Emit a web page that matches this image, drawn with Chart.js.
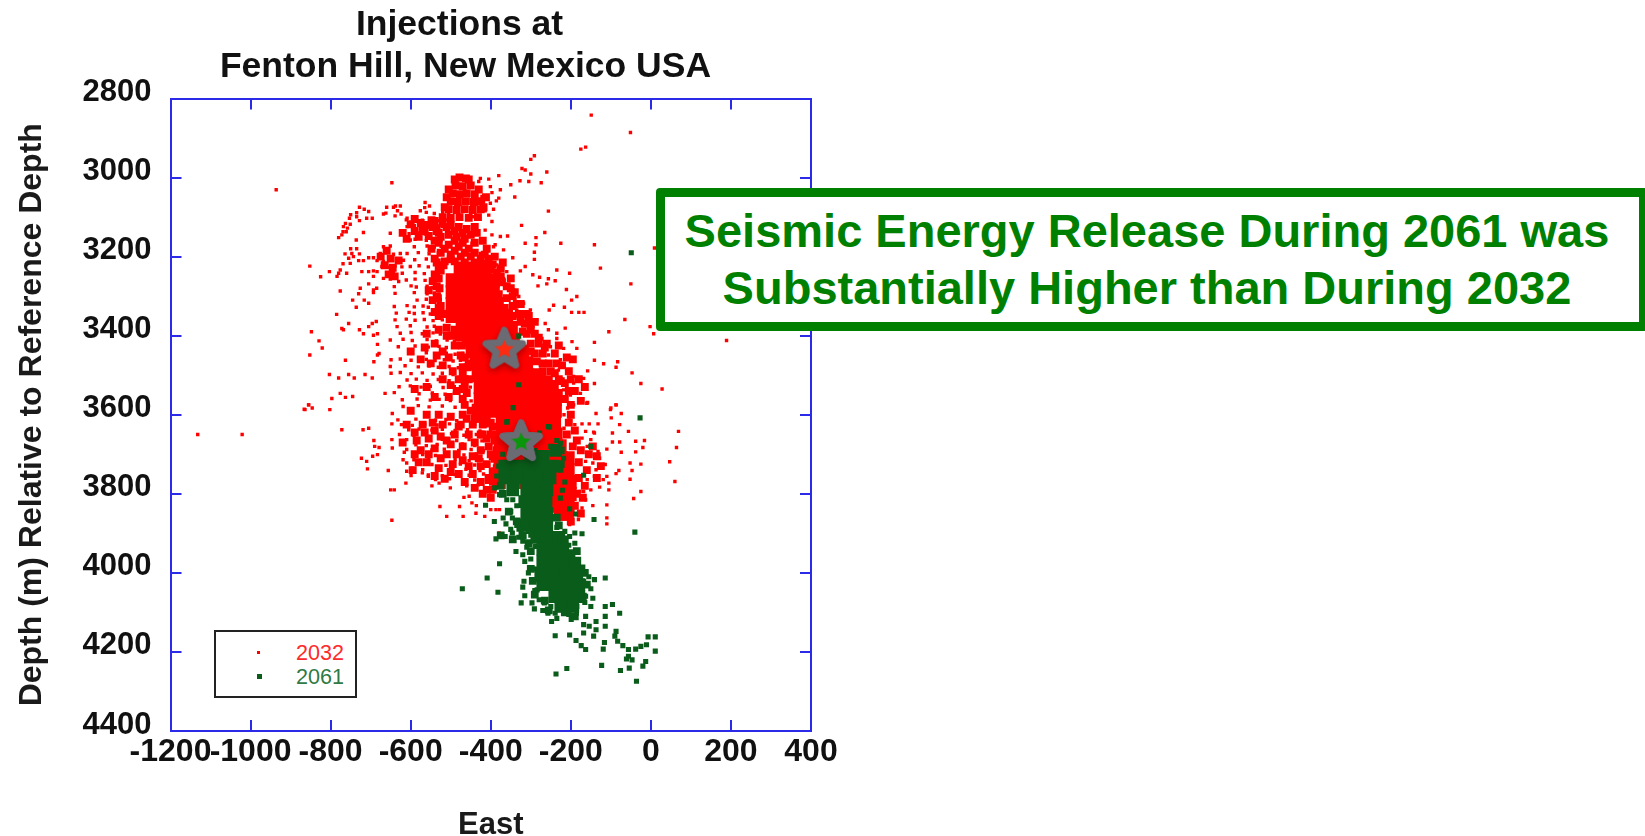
<!DOCTYPE html>
<html>
<head>
<meta charset="utf-8">
<script src="https://cdn.jsdelivr.net/npm/chart.js@4"></script>
<style>
  body { margin: 0; background: #fff; font-family: "Liberation Sans", Arial, sans-serif; }
  .wrap { position: relative; width: 1645px; height: 836px; overflow: hidden; }
  canvas.depth { position: absolute; left: 0; top: 0; }
  .head { position: absolute; left: 200px; top: 2px; width: 531px; text-align: center; color: #111; white-space: nowrap;
    font-weight: bold; font-size: 35.5px; line-height: 42px; }
  .head span { position: relative; left: -6px; }
  .note { position: absolute; left: 656px; top: 188px; width: 992px; height: 143px; box-sizing: border-box;
    border: 9px solid #008000; border-radius: 4px; background: #fff; color: #008000;
    font-weight: bold; font-size: 47px; line-height: 57px; text-align: center; padding: 5px 10px 0 0; white-space: nowrap; }
  .key { position: absolute; left: 214px; top: 630px; width: 143px; height: 68px; box-sizing: border-box; border: 2px solid #222; background: #fff; }
  .key span { position: absolute; left: 80px; font-size: 21.6px; line-height: 24px; }
  .key i { position: absolute; display: block; }
</style>
</head>
<body>
<div class="wrap">
  <canvas class="depth" width="1645" height="836"></canvas>
  <div class="head"><span>Injections at</span><br>Fenton Hill, New Mexico USA</div>
  <div class="note">Seismic Energy Release During 2061 was<br>Substantially Higher than During 2032</div>
  <div class="key">
    <i style="left:41px;top:19px;width:3px;height:3px;background:#ff0000"></i><span style="top:9px;color:#ff2a2a">2032</span>
    <i style="left:41px;top:42px;width:5px;height:5px;background:#0a5c1a"></i><span style="top:33px;color:#2f7a45">2061</span>
  </div>
</div>
<script>
let depth=document.querySelector("canvas.depth");

let xTicks=[-1200,-1000,-800,-600,-400,-200,0,200,400];
let yTicks=[2800,3000,3200,3400,3600,3800,4000,4200,4400];

// all values, [east, depth]
let scatter2032=[
[-149,2842],[-51,2886],[-175,2928],[-163,2923],[-936,3031],[-647,3013],[-291,2945],[-300,2954],[-322,2977],[-314,2981],[-300,2991],[-260,2986],
[-380,2995],[-327,3008],[-305,3010],[-274,3013],[-350,3018],[-340,3049],[-376,3031],[-397,3038],[-380,3052],[-386,3059],[-256,3085],[-323,3121],
[-265,3139],[-358,3148],[-287,3152],[-225,3166],[-141,3170],[-314,3166],[-287,3170],[-291,3189],[-291,3207],[-345,3203],[-314,3225],[-326,3236],
[-235,3234],[-203,3242],[-126,3229],[-50,3269],[-295,3246],[-278,3252],[-239,3261],[-256,3256],[-260,3269],[-282,3274],[-211,3283],[-185,3301],
[-198,3310],[-216,3328],[-243,3323],[-254,3335],[-198,3341],[-180,3341],[-167,3341],[-65,3359],[-2,3377],[7,3395],[-105,3390],[-141,3417],
[-141,3462],[-118,3471],[-83,3466],[-87,3480],[-47,3494],[-25,3521],[-141,3521],[-158,3489],[-158,3569],[-87,3575],[-100,3583],[189,3412],[9,3178],[28,3535],
[-728,3075],[-716,3080],[-705,3086],[-735,3089],[-750,3094],[-735,3099],[-710,3103],[-696,3103],[-728,3109],[-753,3103],[-763,3116],[-751,3118],
[-768,3124],[-758,3128],[-769,3137],[-761,3137],[-780,3152],[-772,3145],[-718,3139],[-736,3158],
[-750,3180],[-735,3180],[-764,3193],[-747,3192],[-728,3193],[-755,3204],[-743,3200],[-769,3218],[-751,3217],[-730,3210],[-718,3210],[-705,3203],
[-693,3203],[-776,3234],[-780,3242],[-784,3250],[-760,3242],[-803,3238],[-825,3251],[-852,3224],[-722,3238],[-705,3238],[-693,3250],[-705,3269],
[-726,3280],[-730,3294],[-693,3284],[-685,3280],[-776,3287],[-745,3310],[-716,3310],[-705,3318],[-693,3291],[-736,3328],[-785,3346],[-755,3369],
[-772,3382],[-768,3385],[-848,3390],[-829,3413],[-821,3431],[-852,3449],[-728,3385],[-718,3395],[-705,3377],[-696,3369],[-686,3364],[-693,3399],
[-683,3395],[-683,3422],[-683,3449],[-692,3466],[-763,3462],[-803,3498],[-780,3507],[-755,3498],[-741,3507],[-714,3498],[-696,3507],[-797,3559],
[-776,3546],[-763,3556],[-745,3554],[-855,3575],[-866,3586],
[-668,3175],[-651,3173],[-676,3192],[-660,3190],[-643,3194],[-626,3192],[-684,3210],[-668,3212],[-651,3208],[-635,3211],[-618,3209],[-672,3225],
[-655,3227],[-639,3224],[-622,3226],[-684,3238],[-660,3242],[-643,3240],[-668,3255],[-651,3257],[-630,3263],[-693,3236],
[-564,3063],[-626,3072],[-643,3075],[-633,3084],[-668,3092],[-576,3084],[-639,3097],[-609,3103],
[-426,3002],[-405,3004],[-401,3023],[-422,3048],[-401,3065],[-393,3080],[-405,3095],[-397,3111],[-414,3133],[-397,3145],[-430,3010],[-418,3061],
[-414,3084],[-443,3099],[-439,3124],[-455,3149],[-447,3166],[-426,3192],[-389,3170],
[-376,3149],[-393,3175],[-368,3183],[-418,3192],[-401,3208],[-385,3221],[-360,3238],[-368,3255],[-385,3267],[-343,3284],[-330,3301],[-318,3318],
[-335,3335],[-301,3335],[-285,3360],[-310,3369],[-264,3369],[-256,3385],[-235,3394],[-214,3381],[-272,3407],[-235,3407],[-197,3415],[-251,3428],
[-218,3432],[-185,3432],[-285,3449],[-256,3449],[-226,3461],[-276,3474],[-251,3474],[-231,3487],[-193,3503],[-168,3508],[-193,3520],[-218,3537],
[-176,3546],[-201,3550],[-193,3575],[-160,3571],[-293,3461],
[-660,3075],[-638,3072],[-565,3076],[-553,3072],[-501,3075],[-662,3090],[-624,3092],[-561,3088],[-541,3091],[-520,3089],[-505,3092],
[-611,3107],[-589,3105],[-571,3108],[-549,3106],[-531,3109],[-514,3107],[-609,3124],[-591,3122],[-574,3125],[-556,3123],[-539,3126],[-521,3124],
[-651,3141],[-620,3139],[-604,3142],[-581,3140],[-564,3143],[-541,3141],[-601,3158],[-589,3156],[-561,3159],[-546,3157],[-524,3160],
[-591,3175],[-559,3173],[-541,3176],[-524,3174],[-609,3192],[-581,3190],[-554,3193],[-531,3191],[-590,3208],[-561,3206],[-534,3209],
[-601,3225],[-579,3223],[-556,3226],[-529,3224],[-621,3242],[-589,3240],[-566,3243],[-544,3241],[-531,3244],[-611,3259],[-589,3257],[-564,3260],[-546,3258],
[-641,3276],[-599,3274],[-586,3277],[-559,3275],[-546,3278],[-529,3276],[-639,3293],[-591,3291],[-559,3294],[-541,3292],[-529,3295],
[-584,3310],[-561,3308],[-539,3311],[-526,3309],[-641,3326],[-609,3324],[-591,3327],[-569,3325],[-556,3328],[-534,3326],
[-636,3343],[-604,3341],[-591,3344],[-569,3342],[-551,3345],[-639,3360],[-611,3358],[-589,3361],[-566,3359],[-544,3362],[-521,3360],
[-634,3377],[-601,3375],[-559,3378],[-541,3376],[-509,3379],[-626,3394],[-599,3392],[-571,3395],[-544,3393],[-526,3396],[-504,3394],
[-651,3411],[-619,3409],[-596,3412],[-559,3410],[-536,3413],[-509,3411],[-491,3414],[-631,3428],[-589,3426],[-556,3429],[-529,3427],[-511,3430],[-479,3428],
[-679,3445],[-561,3443],[-534,3446],[-511,3444],[-489,3447],[-471,3445],[-649,3461],[-626,3459],[-599,3462],[-561,3460],[-539,3463],[-516,3461],[-494,3464],[-476,3462],
[-651,3478],[-614,3476],[-581,3479],[-554,3477],[-531,3480],[-504,3478],[-481,3481],[-649,3495],[-626,3493],[-599,3496],[-571,3494],[-544,3497],[-521,3495],[-494,3498],[-471,3496],
[-609,3512],[-586,3510],[-559,3513],[-531,3511],[-504,3514],[-481,3512],[-456,3515],[-629,3529],[-601,3527],[-574,3530],[-551,3528],[-519,3531],[-491,3529],[-464,3532],[-451,3530],
[-664,3546],[-641,3544],[-579,3547],[-546,3545],[-514,3548],[-491,3546],[-459,3549],[-621,3562],[-584,3560],[-551,3563],[-529,3561],[-501,3564],[-471,3562],[-449,3565],
[-619,3579],[-581,3577],[-554,3580],[-521,3578],[-489,3581],[-466,3579],
[-1132,3650],[-1021,3650],[-864,3587],[-855,3575],[-846,3583],[-802,3587],[-772,3638],[-719,3638],[-705,3634],[-692,3665],[-690,3680],[-679,3683],
[-723,3710],[-710,3718],[-708,3737],[-695,3705],[-683,3701],[-656,3741],[-650,3790],[-641,3790],[-647,3867],[-646,3597],[-647,3623],[-647,3663],
[-646,3684],[-616,3695],[-619,3714],[-610,3722],[-610,3743],[-596,3735],[-599,3754],[-612,3773],[-571,3747],[-556,3756],[-547,3780],[-529,3773],
[-501,3785],[-460,3780],[-527,3832],[-510,3857],[-478,3832],[-467,3809],[-454,3806],[-447,3823],[-436,3830],[-469,3857],[-437,3849],[-415,3857],
[-400,3840],[-387,3840],[-378,3840],[-379,3899],[-342,3920],
[-632,3613],[-587,3611],[-538,3614],[-512,3612],[-485,3615],[-458,3613],[-440,3616],[-422,3612],
[-623,3625],[-596,3627],[-565,3624],[-534,3626],[-503,3623],[-471,3627],[-440,3625],[-409,3628],
[-605,3638],[-579,3636],[-547,3639],[-521,3637],[-489,3640],[-458,3638],[-427,3641],[-400,3637],
[-628,3650],[-592,3652],[-561,3649],[-529,3651],[-498,3648],[-467,3652],[-436,3650],[-396,3653],
[-610,3663],[-583,3661],[-552,3664],[-521,3662],[-485,3665],[-454,3663],[-422,3666],
[-587,3676],[-561,3678],[-534,3675],[-503,3677],[-471,3674],[-440,3678],[-409,3676],[-387,3679],
[-610,3688],[-574,3686],[-547,3689],[-516,3687],[-480,3690],[-449,3688],[-418,3691],
[-570,3701],[-538,3703],[-507,3700],[-467,3702],[-436,3699],[-404,3703],
[-592,3714],[-556,3712],[-525,3715],[-489,3713],[-454,3716],[-422,3714],[-396,3717],
[-547,3726],[-512,3728],[-476,3725],[-440,3727],[-409,3724],
[-570,3739],[-534,3737],[-498,3740],[-462,3738],[-427,3741],[-396,3737],
[-556,3752],[-521,3754],[-489,3751],[-454,3753],[-418,3750],
[-538,3764],[-503,3762],[-440,3765],[-404,3763],[-431,3777],[-400,3775],
[69,3642],[64,3683],[47,3719],[60,3769],[-25,3794],[-43,3812],[-16,3665],[-20,3683],[-38,3667],[-56,3642],[-74,3597],[-87,3575],[-101,3587],[-137,3597],
[-159,3570],[-99,3608],[-78,3625],[-96,3646],[-96,3669],[-78,3669],[-132,3623],[-154,3623],[-172,3623],[-143,3644],[-190,3625],[-217,3600],[-110,3687],
[-74,3695],[-38,3694],[-52,3722],[-25,3725],[-47,3741],[-52,3763],[-80,3741],[-87,3749],[-110,3756],[-119,3764],[-105,3773],[-128,3783],[-105,3790],
[-137,3739],[-114,3726],[-145,3722],[-128,3710],[-150,3701],[-163,3718],[-141,3756],[-159,3764],[-150,3790],[-168,3794],[-163,3815],[-145,3830],[-110,3828],
[-172,3836],[-110,3861],[-110,3876],[-181,3865],[-203,3878],[-177,3794],[-141,3646],[-150,3663],[-172,3659],[-159,3680],[-132,3693],[-186,3642],[-163,3642],
[-208,3583],[-195,3575],[-203,3613],[-217,3634]
];

// the packed parts, where single dots merge into solid colour
let patch2032=[
[-478,3000],[-462,3002],[-488,3020],[-470,3022],[-450,3020],[-495,3040],[-478,3042],[-460,3040],[-440,3042],[-500,3060],[-482,3062],[-462,3060],[-442,3062],[-425,3060],
[-505,3080],[-485,3082],[-465,3080],[-445,3082],[-425,3080],[-520,3100],[-500,3102],[-478,3100],[-455,3102],[-432,3100],
[-560,3120],[-540,3110],[-520,3115],[-500,3120],[-480,3125],[-460,3130],[-440,3125],[-530,3140],[-505,3145],[-485,3150],[-465,3155],
[-530,3165],[-505,3170],[-480,3175],[-455,3180],[-525,3190],[-500,3195],[-475,3200],[-450,3200],[-425,3205],[-515,3212],[-490,3212],[-465,3215],[-440,3215],[-415,3218],
[-395,3220],[-375,3230],[-375,3250],[-360,3275],[-345,3300],[-345,3325],[-330,3345],[-315,3370],[-310,3395],[-300,3420],[-290,3445],[-270,3470],[-250,3490],[-230,3510],
[-535,3300],[-540,3340],[-530,3350],[-510,3380],[-495,3400],[-490,3425],[-475,3450],[-470,3480],[-465,3510],[-470,3535],
[-620,3140],[-600,3118],[-590,3135],[-575,3115],[-565,3130],[-548,3108],[-535,3128],[-610,3155],[-580,3150],[-555,3148],
[-675,3200],[-660,3185],[-650,3205],[-665,3222],[-645,3228],[-630,3210],[-655,3245],[-640,3250],
[-548,3180],[-540,3205],[-530,3232],[-545,3262],[-555,3285],[-535,3275],[-545,3310],[-530,3330],
[-535,3450],[-520,3475],[-505,3455],[-495,3490],[-520,3510],[-500,3525],[-480,3510],[-485,3540],[-505,3555],[-470,3560],[-455,3470],[-560,3530],[-540,3555],[-590,3535],
[-590,3645],[-570,3625],[-555,3660],[-540,3640],[-520,3625],[-510,3665],[-490,3650],[-475,3625],[-455,3650],[-440,3670],[-470,3680],[-510,3700],[-540,3685],[-575,3690],
[-590,3700],[-560,3720],[-530,3735],[-495,3725],[-470,3715],[-445,3705],[-425,3730],[-445,3750],[-480,3750],[-515,3762],[-425,3770],[-395,3790],[-420,3800],
[-440,3610],[-470,3600],[-500,3605],[-530,3600],[-560,3600],
[-205,3620],[-210,3650],[-195,3680],[-175,3690],[-180,3720],[-160,3740],[-180,3760],[-165,3780],[-185,3800],[-170,3810],[-190,3830],[-175,3850],[-200,3870],[-145,3680],
[-125,3730],[-135,3760],[-190,3640],[-185,3665],[-155,3700],[-135,3705],[-200,3600],[-215,3560],[-200,3575],[-205,3540],[-225,3515],[-240,3495],[-200,3510],[-255,3470],
[-270,3445],[-235,3470],[-280,3420],[-290,3395],[-265,3430],[-300,3370],[-320,3345],[-305,3350],[-335,3320],[-350,3280],[-350,3255],[-370,3215],[-390,3200],[-410,3180],[-420,3160],[-435,3140],
[-510,3050],[-515,3075],[-418,3075],[-412,3050],[-430,3030],[-455,3005],[-490,3005],[-505,3030],
[-590,3105],[-570,3135],[-545,3125],[-525,3150],[-510,3125],[-490,3135],[-470,3140],[-450,3145],[-440,3165],[-470,3165],[-490,3160],[-515,3180],[-490,3185],[-465,3190],[-440,3190],[-415,3195],[-540,3160],[-500,3207],[-535,3215],[-405,3205],[-400,3232],
[-525,3235],[-530,3255],[-528,3280],[-532,3305],[-525,3325],[-520,3345],[-518,3222],[-540,3245],
[-385,3240],[-372,3265],[-380,3295],[-360,3305],[-365,3330],[-345,3350],[-325,3365],[-340,3290],[-325,3320],[-310,3345],[-300,3385],[-290,3365],[-280,3405],[-320,3390],
[-300,3440],[-285,3465],[-270,3490],[-255,3510],[-240,3525],[-230,3545],[-222,3475],[-205,3490],[-215,3520],[-190,3540],[-180,3510],[-175,3565],[-210,3455],[-240,3445],[-260,3420],[-230,3425],[-195,3460],[-165,3530],
[-490,3385],[-480,3405],[-472,3425],[-465,3455],[-458,3480],[-470,3495],[-465,3525],[-455,3510],[-460,3545],[-465,3575],[-450,3590],[-430,3610],[-410,3615],[-395,3630],[-385,3650],[-390,3665],
[-600,3590],[-610,3625],[-620,3670],[-585,3665],[-565,3645],[-545,3620],[-525,3655],[-500,3675],[-480,3630],[-460,3610],[-445,3625],[-425,3650],[-410,3660],[-425,3690],[-400,3700],[-555,3700],[-525,3710],[-485,3700],[-455,3730],[-430,3710],[-540,3755],[-500,3745],[-465,3770],[-440,3785],[-410,3790],[-405,3765],[-400,3810],[-580,3720],[-595,3740],
[-600,3440],[-575,3460],[-550,3470],[-565,3430],[-540,3420],[-520,3440],[-510,3400],[-530,3385],[-560,3395],
[-400,3620],[-420,3625],[-400,3650],[-420,3650],[-405,3680],[-395,3705],[-410,3725],[-395,3745],[-405,3760],[-385,3690],[-380,3715],[-385,3735]
];
let core2032=[
[-475,3230],[-445,3230],[-415,3230],[-495,3260],[-470,3260],[-445,3260],[-420,3260],[-395,3260],
[-495,3290],[-470,3290],[-445,3290],[-420,3290],[-395,3290],[-495,3320],[-470,3320],[-445,3320],[-415,3320],[-385,3320],
[-495,3350],[-470,3350],[-450,3350],[-420,3350],[-390,3350],[-362,3350],[-470,3380],[-440,3380],[-410,3380],[-380,3380],[-350,3380],
[-455,3410],[-435,3410],[-405,3410],[-375,3410],[-345,3410],[-445,3440],[-425,3440],[-400,3440],[-370,3440],[-340,3440],[-322,3440],
[-435,3470],[-420,3470],[-390,3470],[-360,3470],[-330,3470],[-312,3470],[-430,3500],[-400,3500],[-370,3500],[-340,3500],[-310,3500],[-280,3500],
[-425,3530],[-395,3530],[-365,3530],[-335,3530],[-305,3530],[-275,3530],[-252,3530],[-425,3560],[-395,3560],[-365,3560],[-335,3560],[-305,3560],[-275,3560],[-240,3560],
[-430,3590],[-400,3590],[-370,3590],[-340,3590],[-310,3590],[-280,3590],[-240,3590],[-370,3620],[-340,3620],[-310,3620],[-280,3620],[-242,3620],
[-370,3650],[-340,3650],[-310,3650],[-280,3650],[-238,3650],[-375,3680],[-345,3680],[-315,3680],[-285,3680],[-255,3680],[-228,3680],
[-375,3710],[-345,3710],[-315,3710],[-285,3710],[-245,3710],[-208,3710],[-375,3740],[-345,3740],[-315,3740],[-285,3740],[-245,3740],[-208,3740],
[-380,3770],[-340,3770],[-300,3770],[-245,3770],[-203,3770],[-240,3800],[-203,3800],[-232,3830],[-208,3830],[-225,3850],[-210,3850],
[-270,3620],[-255,3650],[-265,3590],[-255,3560],[-262,3710],[-262,3740],[-225,3710],[-225,3740],[-225,3770],[-222,3800],[-275,3770],[-320,3770]
];

let scatter2061=[
[-330,3401],[-330,3524],[-344,3582],[-359,3617],[-256,3630],[-49,3190],
[-360,3619],[-253,3631],[-27,3608],[-278,3646],[-226,3672],[-150,3680],[-168,3753],[-221,3791],[-226,3811],[-203,3838],[-188,3851],[-142,3865],[-40,3897],
[-413,3829],[-378,3802],[-360,3815],[-391,3870],[-369,3861],[-346,3861],[-362,3876],[-387,3914],[-364,3908],[-346,3899],[-324,3899],[-306,3895],[-320,3920],
[-293,3912],[-288,3933],[-203,3908],[-172,3901],[-190,3899],[-337,3946],[-320,3954],[-315,3971],[-302,3946],[-378,3977],[-409,4013],[-471,4040],[-382,4049],
[-306,4000],[-317,4021],[-320,4036],[-288,4017],[-315,4058],[-324,4076],[-297,4076],[-291,4091],[-279,4068],[-266,4076],[-284,4043],[-248,4068],[-257,4102],
[-248,4123],[-239,4102],[-226,4093],[-203,4093],[-199,4118],[-186,4102],[-168,4021],[-141,4017],[-114,4013],[-163,4059],[-145,4064],[-150,4085],[-114,4085],
[-96,4080],[-78,4102],[-114,4110],[-163,4110],[-137,4123],[-168,4131],[-154,4135],[-114,4135],[-137,4144],[-168,4152],[-143,4160],[-239,4159],[-203,4157],
[-187,4171],[-174,4184],[-163,4194],[-116,4176],[-119,4193],[-87,4148],[-90,4160],[-83,4173],[-70,4184],[-56,4194],[-38,4193],[-25,4186],[-7,4162],[11,4162],
[-11,4182],[11,4198],[-56,4211],[-47,4220],[-61,4218],[-13,4224],[-20,4236],[-123,4234],[-54,4241],[-76,4247],[-36,4274],[-210,4242],[-237,4256],
[-350,3890],[-335,3880],[-300,3905],[-330,3910],[-310,3935],[-300,3965],[-295,3990],[-290,4045],[-270,4095],[-250,4085],[-235,4115],[-205,4105],[-185,4085],[-165,4075],
[-150,4040],[-155,4010],[-170,3985],[-195,3955],[-205,3930],[-215,3895],[-235,3885],[-190,3925],[-350,3845],[-335,3830],[-345,3815],[-215,3770],[-225,3740],[-218,3710],
[-235,3665],[-250,3680],[-385,3755],[-380,3730],[-370,3700],[-390,3785]
];
let patch2061=[
[-370,3800],[-355,3845],[-335,3870],[-375,3905],[-345,3915],[-320,3905],[-305,3925],[-300,3945],[-235,3860],[-230,3880],[-215,3915],[-200,3950],[-185,3945],
[-300,3990],[-295,4020],[-290,4055],[-265,4070],[-255,4095],[-215,4100],[-170,4060],[-165,4000],[-160,4030],[-190,4110],[-375,3780],[-225,3725],[-225,3690]
];
let core2061=[
[-300,3700],[-270,3705],[-238,3690],[-365,3730],[-335,3730],[-305,3730],[-275,3730],[-245,3730],[-365,3760],[-335,3760],[-305,3760],[-275,3760],[-252,3760],
[-345,3790],[-310,3790],[-280,3790],[-260,3790],[-315,3820],[-285,3820],[-262,3820],[-310,3850],[-285,3850],[-260,3850],[-320,3880],[-290,3880],[-260,3880],
[-285,3910],[-260,3910],[-230,3910],[-270,3940],[-245,3940],[-220,3940],[-270,3970],[-240,3970],[-210,3970],[-190,3975],
[-275,4000],[-245,4000],[-215,4000],[-185,4000],[-270,4030],[-240,4030],[-210,4030],[-180,4030],[-240,4060],[-210,4060],[-180,4060],[-225,4085],[-195,4085]
];

let starRed=[[-366,3435]];
let starGreen=[[-324,3669]];

function toPoints(list) {
  return list.map(function(p) { return {x: p[0], y: p[1]}; });
}

// filled star with the grey outline and soft shadow
function makeStar(fill) {
  let c=document.createElement("canvas");
  c.width=60; c.height=60;
  let g=c.getContext("2d");
  g.beginPath();
  for (let i=0;i<10;i++) {
    let r=i%2==0 ? 19 : 8.5;
    let a=-Math.PI/2+i*Math.PI/5;
    g.lineTo(30+r*Math.cos(a),30+r*Math.sin(a));
  }
  g.closePath();
  g.lineJoin="round";
  g.lineWidth=7;
  g.strokeStyle="#6a6b73";
  g.fillStyle=fill;
  g.shadowColor="rgba(0,0,0,0.35)";
  g.shadowBlur=7;
  g.shadowOffsetY=3;
  g.stroke();
  g.shadowColor="transparent";
  g.fill();
  g.stroke();
  return c;
}

function dots(name, list, color, radius, order) {
  return {
    label: name,
    data: toPoints(list),
    pointStyle: "rect",
    pointRadius: radius,
    pointBorderWidth: 0,
    backgroundColor: color,
    showLine: false,
    order: order
  };
}

let blue="#2a2ae8";
let tickFont={family: "Liberation Sans", size: 31, weight: "bold"};

function sideAxis(position, ticks, min, max, reverse) {
  return {
    type: "linear", position: position, min: min, max: max, reverse: reverse,
    afterBuildTicks: function(s) { s.ticks=ticks.map(function(v) { return {value: v}; }); },
    afterFit: function(s) { if (s.isHorizontal()) s.height=0; else s.width=0; },
    ticks: {display: false},
    border: {color: blue, width: 2},
    grid: {drawOnChartArea: false, color: blue, lineWidth: 2, tickLength: -11}
  };
}

new Chart(depth, {
  type: "scatter",
  data: {
    datasets: [
      {label: "Start 2032", data: toPoints(starRed), pointStyle: makeStar("#ff2a10"), order: 0},
      {label: "Start 2061", data: toPoints(starGreen), pointStyle: makeStar("#0a960a"), order: 1},
      dots("2061", scatter2061, "#0a5c1a", 3.6, 2),
      dots("2061 patches", patch2061, "#0a5c1a", 5.5, 3),
      dots("2061 packed", core2061, "#0a5c1a", 9, 4),
      dots("2032", scatter2032, "#ff0000", 2.4, 5),
      dots("2032 patches", patch2032, "#ff0000", 5.6, 6),
      dots("2032 solid", core2032, "#ff0000", 10, 7)
    ]
  },
  options: {
    responsive: false,
    animation: false,
    layout: {padding: {left: 0, right: 834, top: 98.5, bottom: 0}},
    plugins: {
      legend: {display: false},
      tooltip: {enabled: false}
    },
    scales: {
      x: {
        type: "linear", position: "bottom", min: -1200, max: 400,
        afterBuildTicks: function(s) { s.ticks=xTicks.map(function(v) { return {value: v}; }); },
        afterFit: function(s) { s.height=105; },
        ticks: {color: "#111", font: {family: "Liberation Sans", size: 32, weight: "bold"}, autoSkip: false, maxRotation: 0, padding: 13, callback: function(v) { return String(v); }},
        border: {color: blue, width: 2},
        grid: {drawOnChartArea: false, color: blue, lineWidth: 2, tickLength: -11},
        title: {display: true, text: "East", color: "#1a1a1a", font: {family: "Liberation Sans", size: 31, weight: "bold", lineHeight: 1}, padding: {top: 20, bottom: -5}}
      },
      y: {
        type: "linear", position: "left", reverse: true, min: 2800, max: 4400,
        afterBuildTicks: function(s) { s.ticks=yTicks.map(function(v) { return {value: v}; }); },
        afterFit: function(s) { s.width=170.5; },
        ticks: {color: "#111", font: tickFont, autoSkip: false, padding: 30, labelOffset: -6, callback: function(v) { return String(v); }},
        border: {color: blue, width: 2},
        grid: {drawOnChartArea: false, color: blue, lineWidth: 2, tickLength: -11},
        title: {display: true, text: "Depth (m) Relative to Reference Depth", color: "#1a1a1a", font: {family: "Liberation Sans", size: 32, weight: "bold", lineHeight: 1}, padding: {top: 16, bottom: 8}}
      },
      xTop: sideAxis("top", xTicks, -1200, 400, false),
      yRight: sideAxis("right", yTicks, 2800, 4400, true)
    }
  }
});
</script>
</body>
</html>
